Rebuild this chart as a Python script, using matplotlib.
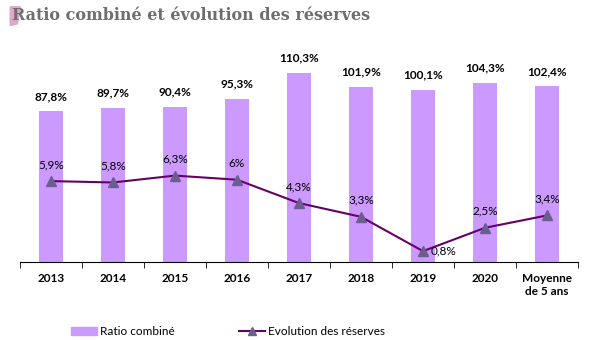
import matplotlib.pyplot as plt
import matplotlib.patches as mpatches
from matplotlib.lines import Line2D
import numpy as np

categories = ["2013", "2014", "2015", "2016", "2017", "2018", "2019", "2020", "Moyenne\nde 5 ans"]
ratio_combine = [87.8, 89.7, 90.4, 95.3, 110.3, 101.9, 100.1, 104.3, 102.4]
evolution_reserves = [5.9, 5.8, 6.3, 6.0, 4.3, 3.3, 0.8, 2.5, 3.4]
ratio_labels = ["87,8%", "89,7%", "90,4%", "95,3%", "110,3%", "101,9%", "100,1%", "104,3%", "102,4%"]
reserve_labels = ["5,9%", "5,8%", "6,3%", "6%", "4,3%", "3,3%", "0,8%", "2,5%", "3,4%"]

BAR_COLOR = "#CC99FF"
LINE_COLOR = "#660066"
MARKER_COLOR = "#6B5E8F"

plt.rcParams['font.family'] = ['Lato', 'DejaVu Sans']

fig = plt.figure(figsize=(6, 3.4), dpi=100)
ax = fig.add_axes([0.0333, 0.229, 0.93, 0.606])
x = np.arange(len(categories))

ax.bar(x, ratio_combine, width=0.4, color=BAR_COLOR, zorder=1)
ax.set_ylim(0, 120)
ax.set_xlim(-0.5, len(categories) - 0.5)
for xi, v, lab in zip(x, ratio_combine, ratio_labels):
    ax.text(xi, v + 5.5, lab, ha="center", va="bottom", fontsize=8.5, fontweight="bold")

ax2 = ax.twinx()
ax2.plot(x, evolution_reserves, color=LINE_COLOR, lw=1.5, marker="^", ms=7,
         mfc=MARKER_COLOR, mec=MARKER_COLOR, zorder=3)
ax2.set_ylim(0, 15)
for xi, v, lab in zip(x, evolution_reserves, reserve_labels):
    if lab == "0,8%":
        ax2.text(xi + 0.12, v, lab, ha="left", va="center", fontsize=8.5)
    else:
        ax2.text(xi, v + 0.8, lab, ha="center", va="bottom", fontsize=8.5)

for a in (ax, ax2):
    for s in ("top", "right", "left"):
        a.spines[s].set_visible(False)
    a.set_yticks([])
ax2.spines["bottom"].set_visible(False)

ax.spines["bottom"].set_color("black")
ax.set_xticks(x)
ax.set_xticklabels(categories, fontsize=8.5, fontweight="bold")
ax.tick_params(axis="x", length=0, pad=8)
ax.set_xticks(np.arange(-0.5, len(categories), 1.0), minor=True)
ax.tick_params(axis="x", which="minor", length=4, direction="out", color="black")

# title with accent mark
fig.patches.append(mpatches.Polygon([[0.017, 0.98], [0.034, 0.98], [0.029, 0.93], [0.017, 0.925]],
                                    closed=True, transform=fig.transFigure,
                                    color="#E0A8C8", zorder=0))
fig.text(0.02, 0.955, "Ratio combiné et évolution des réserves", fontsize=11.5,
         fontweight="bold", family="DejaVu Serif", color="#6E6E6E", va="center")

handles = [mpatches.Patch(color=BAR_COLOR, label="Ratio combiné"),
           Line2D([], [], color=LINE_COLOR, marker="^", mfc=MARKER_COLOR,
                  mec=MARKER_COLOR, ms=6, lw=1.5, label="Evolution des réserves")]
fig.legend(handles=handles, loc="center", bbox_to_anchor=(0.38, 0.025), ncol=2,
           frameon=False, fontsize=8.5, columnspacing=5.5, handlelength=2.2,
           handletextpad=0.2)

fig.savefig("out.png", dpi=100)
